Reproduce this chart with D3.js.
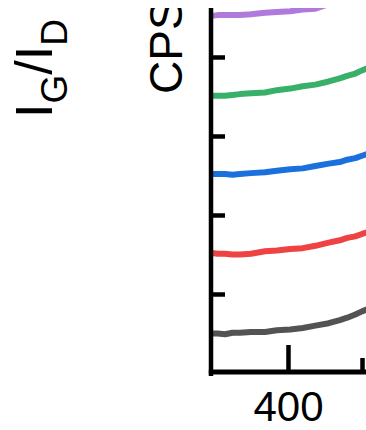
<!DOCTYPE html>
<html>
<head>
<meta charset="utf-8">
<script src="https://cdn.jsdelivr.net/npm/d3@7"></script>
<style>
  body { margin: 0; background: #fff; }
  svg { display: block; }
</style>
</head>
<body>
<div id="canvas"></div>
<script>
"use strict"

/* data: x in the axis units, y as stacked offsets */
let xValues = [297, 305, 315, 325, 335, 350, 369, 385, 403, 420, 437, 455, 470, 480, 491, 500, 510];
let graySeries   = [0.50, 0.50, 0.49, 0.51, 0.51, 0.52, 0.52, 0.54, 0.55, 0.57, 0.60, 0.63, 0.67, 0.70, 0.74, 0.78, 0.82];
let redSeries    = [1.52, 1.51, 1.51, 1.50, 1.50, 1.51, 1.54, 1.55, 1.57, 1.58, 1.61, 1.65, 1.68, 1.71, 1.73, 1.76, 1.79];
let blueSeries   = [2.52, 2.52, 2.52, 2.51, 2.52, 2.53, 2.54, 2.56, 2.58, 2.59, 2.62, 2.65, 2.67, 2.70, 2.72, 2.75, 2.78];
let greenSeries  = [3.51, 3.51, 3.51, 3.52, 3.53, 3.54, 3.55, 3.58, 3.60, 3.63, 3.65, 3.69, 3.73, 3.76, 3.79, 3.83, 3.87];
let purpleSeries = [4.52, 4.53, 4.53, 4.53, 4.53, 4.54, 4.56, 4.57, 4.58, 4.60, 4.61, 4.67, 4.70, 4.73, 4.76, 4.79, 4.82];
let seriesColors = ["#535353", "#ef4242", "#1a70dc", "#38b06a", "#b07adc"];
let yTickValues = [1, 2, 3, 4];
let xMajorTicks = [400];
let xMinorTicks = [500];

/*  Variable that enables you to "talk to" your SVG drawing canvas. */
let drawing = d3.select("#canvas")
    .append("svg")
    .attr("width", 366)
    .attr("height", 430);

/* the figure is cut off at the top */
drawing.append("clipPath")
    .attr("id", "cut")
    .append("rect")
    .attr("x", 0)
    .attr("y", 8)
    .attr("width", 366)
    .attr("height", 422);

let chart = drawing.append("g")
    .attr("clip-path", "url(#cut)");

/* scales */
let x = d3.scaleLinear()
    .domain([296, 500])
    .range([211, 362]);

let y = d3.scaleLinear()
    .domain([0, 4.62])
    .range([373, 8]);

/* spectra */
let allSeries = [graySeries, redSeries, blueSeries, greenSeries, purpleSeries];

let spectrumLine = d3.line()
    .x((d, i) => x(xValues[i]))
    .y(d => y(d));

allSeries.forEach(function (values, k) {
    chart.append("path")
        .datum(values)
        .attr("d", spectrumLine)
        .attr("fill", "none")
        .attr("stroke", seriesColors[k])
        .attr("stroke-width", 6)
        .attr("stroke-linejoin", "round");
});

/* y axis, ticks pointing inward */
let yAxis = chart.append("g")
    .attr("transform", "translate(211,0)")
    .call(d3.axisLeft(y).tickValues(yTickValues).tickSize(-14).tickSizeOuter(0).tickFormat(""));

yAxis.select(".domain")
    .attr("d", "M0,376V-40")
    .attr("stroke-width", 4.5);
yAxis.selectAll(".tick line")
    .attr("stroke-width", 4.5);

/* x axis */
let xAxis = chart.append("g")
    .attr("transform", "translate(0,372)")
    .call(d3.axisBottom(x).tickValues(xMajorTicks).tickSize(-27).tickSizeOuter(0).tickPadding(19));

xAxis.attr("font-family", "'Liberation Sans', Arial, sans-serif")
    .attr("font-size", 42);
xAxis.select(".domain")
    .attr("d", "M208.8,0H400")
    .attr("stroke-width", 5);
xAxis.selectAll(".tick line")
    .attr("stroke-width", 4.5);

let xMinor = chart.append("g")
    .attr("transform", "translate(0,372)")
    .call(d3.axisBottom(x).tickValues(xMinorTicks).tickSize(-14).tickFormat(""));
xMinor.select(".domain").remove();
xMinor.selectAll(".tick line")
    .attr("stroke-width", 4.5);

/* axis titles */
chart.append("text")
    .attr("transform", "translate(182,94) rotate(-90)")
    .attr("font-family", "'Liberation Sans', Arial, sans-serif")
    .attr("font-size", 46)
    .attr("fill", "#000")
    .text("CPS");

let ratioLabel = chart.append("text")
    .attr("transform", "translate(52,118) rotate(-90)")
    .attr("font-family", "'Liberation Sans', Arial, sans-serif")
    .attr("font-size", 52)
    .attr("fill", "#000");

ratioLabel.append("tspan").text("I");
ratioLabel.append("tspan").attr("font-size", 37).attr("dy", 15).text("G");
ratioLabel.append("tspan").attr("dy", -15).text("/I");
ratioLabel.append("tspan").attr("font-size", 37).attr("dy", 15).text("D");
</script>
</body>
</html>
